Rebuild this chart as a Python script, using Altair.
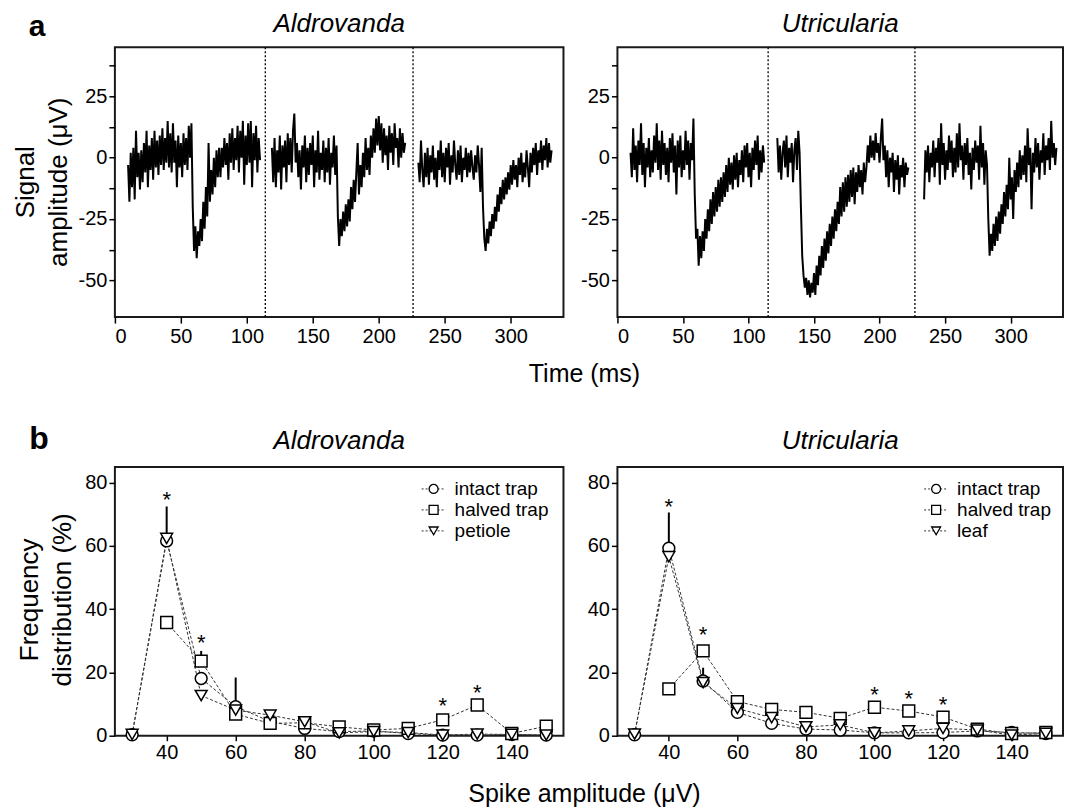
import altair as alt
import pandas as pd

FONT = "Liberation Sans"

# ---------------- panel a : signal traces (ms, µV) ----------------
ALD_STARTS = [10, 119, 230]
ALD_SEG1 = [-3, -18, 2, -12, 4, -17, 11, -8, 2, -13,
            3, -10, 6, -6, 11, -12, 5, -5, 8, -9,
            11, -4, 7, -7, 9, -3, 12, -5, 8, -2,
            15, -4, 10, -6, 14, -2, 7, -12, 9, -4,
            6, -8, 10, -3, 8, -5, 13, 0, 14, -20,
            -38, -28, -41, -30, -36, -25, -34, -18, -29, -12,
            -24, 6, -18, -5, -15, 0, -12, 3, -8, 4,
            -8, 4, -4, 8, -3, 6, -9, 10, -2, 12,
            -5, 8, -1, 13, -6, 11, 0, 15, -11, 9,
            -3, 14, -2, 15, -12, 10, -1, 13, -6, 8, -1]
ALD_SEG2 = [4, -10, 8, -12, 3, -6, 9, -13, 5, -4,
            7, -10, 10, -3, 8, -6, 11, 18, -2, 6,
            -8, 3, -13, 5, -4, 9, -10, 4, -7, 6,
            -3, 9, -12, 3, -6, 11, -9, 2, -5, 7,
            -10, 4, -6, 8, -11, 2, -4, 9, -7, 5,
            -24, -36, -25, -32, -22, -30, -19, -28, -17, -26,
            -12, -21, -9, -18, -6, 6, -15, -3, -12, 2,
            -8, 8, -5, 4, -7, 9, 0, 12, 2, 16,
            5, 17, 3, 14, -2, 12, 1, 9, -5, 13,
            2, 10, -3, 14, 4, 8, -4, 12, 0, 10, 2, 6]
ALD_SEG3 = [-2, -10, 7, -5, -12, 2, -8, 4, -11, 1,
            -6, 5, -9, 0, -12, 3, -5, 7, -8, 2,
            -10, 4, -4, 6, -11, 1, -6, 7, -3, -9,
            3, -7, 5, -10, 0, -5, 4, -8, 2, -6,
            3, -4, -9, 1, -6, 5, -3, -14, 4, -20,
            -33, -38, -29, -35, -26, -32, -23, -29, -20, -26,
            -15, -22, -12, -19, -9, -17, -8, -15, -6, -13,
            -3, -11, -1, -9, -3, -12, 0, -7, 2, -10,
            -2, -8, 3, -4, -12, 2, -6, 4, -3, 6,
            -7, 3, -2, 7, -5, 5, -1, 8, -4, 6, -2, 3]
ALD_DIVIDERS = [114, 226]

UTR_STARTS = [10, 122, 234]
UTR_SEG1 = [2, -8, 12, -5, 5, -10, 7, -3, 14, -7,
            6, -12, 4, -4, 8, -8, 3, -6, 9, -2,
            14, -5, 7, -9, 11, -3, 6, -7, 4, -10,
            8, -2, 10, -6, 5, -15, 7, -4, 9, -8,
            3, -5, 11, -3, 7, -9, 6, -1, 16, -15,
            -33, -29, -44, -32, -41, -30, -38, -25, -33, -21,
            -30, -17, -27, -14, -24, -12, -22, -9, -20, -8,
            -18, -6, -16, -3, -14, 0, -11, -2, -13, 1,
            -9, 2, -12, -1, -7, 3, -10, 5, -4, 6,
            -8, 2, -12, 4, -5, 7, -3, 9, -9, 3, -6, 5, -2]
UTR_SEG2 = [8, -6, 5, -9, 2, 7, -4, 9, -8,
            4, -2, 6, -10, 3, 8, -5, 11, 2, -20,
            -40, -48, -53, -49, -56, -50, -57, -51, -55,
            -47, -56, -44, -52, -40, -48, -36, -45, -33, -42,
            -30, -39, -27, -36, -24, -33, -21, -30, -18, -27,
            -12, -24, -10, -22, -8, -20, -7, -18, -5, -16,
            -4, -19, -6, -14, -3, -12, -5, -15, -2, -10,
            -4, 5, -2, 9, 0, 7, -1, 10, 2, 6,
            -2, 8, 16, -1, 5, -8, 3, -12, 0, -6,
            2, -14, -1, -9, 1, -15, -3, -8, 0, -12, -2, -7, -4]
UTR_SEG3 = [-17, 3, -6, 5, -10, 2, -4, 7, -8, 4,
            -2, 8, -11, 14, -3, 6, -9, 3, -5, 9,
            -2, 7, -8, 4, -6, 10, -4, 14, -1, 5,
            -9, 6, -3, 8, -7, 2, -13, 4, -5, 7,
            -2, 5, -9, 13, -4, 6, -11, 3, -3, -25,
            -40, -31, -38, -27, -36, -24, -34, -22, -31, -19,
            -27, -14, -24, -11, -21, 0, -17, -8, -25, -5,
            -14, -2, -12, 3, -9, 1, -7, 5, -10, 12,
            -3, 4, -21, 2, -6, 8, -4, 6, -9, 3,
            -2, 10, -7, 5, -1, 8, -5, 15, 0, 6, -3, 4]
UTR_DIVIDERS = [115, 227]

TRACE_X_TICKS = [0, 50, 100, 150, 200, 250, 300]
TRACE_Y_TICKS = [-50, -37.5, -25, -12.5, 0, 12.5, 25, 37.5]

# ---------------- panel b : frequency distributions ----------------
AMP = [30, 40, 50, 60, 70, 80, 90, 100, 110, 120, 130, 140, 150]
ALD_INTACT = [0.3, 61.6, 18.1, 9.2, 4.5, 2.3, 1.3, 1.5, 0.7, 0.2, 0.2, 0.4, 0.2]
ALD_HALVED = [None, 35.8, 23.6, 6.8, 3.9, 4.1, 2.8, 1.8, 2.3, 5.0, 9.7, 0.7, 3.0]
ALD_PETIOLE = [0.4, 62.4, 12.7, 8.1, 6.5, 4.4, 0.9, 1.3, 1.0, 0.2, 0.5, 0.4, 0.2]
ALD_ERR_X = [40, 50, 60]
ALD_ERR_LO = [61.6, 23.6, 9.2]
ALD_ERR_HI = [72.5, 26.8, 18.4]
ALD_STAR_X = [40, 50, 120, 130]
ALD_STAR_Y = [76, 31, 11, 15]

UTR_INTACT = [0.3, 59.3, 17.3, 7.4, 3.9, 2.1, 1.8, 0.9, 0.9, 1.0, 1.5, 1.0, 0.7]
UTR_HALVED = [None, 14.8, 26.8, 10.8, 8.3, 7.4, 5.5, 9.0, 7.8, 5.9, 2.1, 0.7, 1.0]
UTR_LEAF = [0.5, 56.6, 16.8, 8.6, 5.7, 2.8, 3.4, 0.9, 1.5, 2.3, 1.8, 0.2, 0.7]
UTR_ERR_X = [40, 50]
UTR_ERR_LO = [59.3, 17.3]
UTR_ERR_HI = [70.6, 21.5]
UTR_STAR_X = [40, 50, 100, 110, 120]
UTR_STAR_Y = [74, 33.4, 14.5, 13.2, 11.3]

FREQ_X_TICKS = [40, 60, 80, 100, 120, 140]
FREQ_Y_TICKS = [0, 20, 40, 60, 80]
SERIES = ["intact", "halved", "third"]
SHAPES = ["circle", "square", "triangle-down"]


def label(text, x, y, size, weight="normal", style="normal", angle=0,
          align="center", baseline="alphabetic"):
    return alt.Chart(pd.DataFrame({"s": [text]})).mark_text(
        font=FONT, fontSize=size, fontWeight=weight, fontStyle=style,
        angle=angle, align=align, baseline=baseline, color="black"
    ).encode(text="s:N", x=alt.value(x), y=alt.value(y))


def trace_panel(starts, segs, dividers, title, width, left=False):
    rows = []
    for k, (s, vals) in enumerate(zip(starts, segs)):
        for i, v in enumerate(vals):
            rows.append({"t": s + i, "v": v, "seg": k})
    df = pd.DataFrame(rows)
    xs = alt.Scale(domain=[0, 340], nice=False, zero=False)
    ys = alt.Scale(domain=[-65, 45], nice=False, zero=False)
    xax = alt.Axis(values=TRACE_X_TICKS, title=None, labelPadding=3)
    yax = alt.Axis(values=TRACE_Y_TICKS, title=None, labelPadding=2,
                   labelExpr="datum.value % 25 == 0 ? toString(datum.value) : ''")
    X = alt.X("t:Q", scale=xs, axis=xax)
    Y = alt.Y("v:Q", scale=ys, axis=yax)
    divs = alt.Chart(pd.DataFrame({"t": dividers})).mark_rule(
        color="black", strokeDash=[2, 2], strokeWidth=1.3).encode(x=X)
    line = alt.Chart(df).mark_line(color="black", strokeWidth=2.0).encode(
        x=X, y=Y, detail="seg:N")
    layers = [divs, line, label(title, width / 2, -15, 26, style="italic")]
    if left:
        layers += [
            label("a", -78, -11, 30, weight="bold"),
            label("Signal", -81, 135, 26, angle=270),
            label("amplitude (μV)", -48, 135, 26, angle=270),
            label("Time (ms)", 470, 335, 25),
        ]
    return alt.layer(*layers).properties(width=width, height=270)


def freq_panel(intact, halved, third, third_label, ex, elo, ehi, sx, sy,
               title, width, left=False):
    rows = []
    for name, vals in zip(SERIES, (intact, halved, third)):
        for a, v in zip(AMP, vals):
            if v is not None:
                rows.append({"amp": a, "val": v, "series": name})
    df = pd.DataFrame(rows)
    xs = alt.Scale(domain=[25, 155], nice=False, zero=False)
    ys = alt.Scale(domain=[0, 85], nice=False, zero=False)
    xax = alt.Axis(values=FREQ_X_TICKS, title=None, labelPadding=2, tickSize=5)
    yax = alt.Axis(values=FREQ_Y_TICKS, title=None, labelPadding=2)
    X = alt.X("amp:Q", scale=xs, axis=xax)
    Y = alt.Y("val:Q", scale=ys, axis=yax)
    lines = alt.Chart(df).mark_line(color="#333", strokeWidth=1,
                                    strokeDash=[3, 2]).encode(
        x=X, y=Y, detail="series:N")
    err = alt.Chart(pd.DataFrame({"amp": ex, "val": elo, "hi": ehi})).mark_rule(
        color="black", strokeWidth=2).encode(x=X, y=Y, y2="hi:Q")
    pts = alt.Chart(df).mark_point(filled=True, fill="white", stroke="black",
                                   strokeWidth=1.5, size=140, opacity=1).encode(
        x=X, y=Y,
        shape=alt.Shape("series:N", legend=None,
                        scale=alt.Scale(domain=SERIES, range=SHAPES)))
    stars = alt.Chart(pd.DataFrame({"amp": sx, "val": sy, "s": ["*"] * len(sx)})).mark_text(
        font=FONT, fontSize=22, baseline="alphabetic", dy=12, color="black").encode(
        x=X, y=Y, text="s:N")
    layers = [lines, err, pts, stars, label(title, width / 2, -18, 26, style="italic")]
    for i, (lab, shp) in enumerate(zip(["intact trap", "halved trap", third_label], SHAPES)):
        yy = 22 + 21 * i
        layers.append(alt.Chart(pd.DataFrame({"s": [lab]})).mark_rule(
            color="#333", strokeWidth=1, strokeDash=[2, 2]).encode(
            x=alt.value(307), x2=alt.value(331), y=alt.value(yy)))
        layers.append(alt.Chart(pd.DataFrame({"s": [lab]})).mark_point(
            shape=shp, filled=True, fill="white", stroke="black", strokeWidth=1.3,
            size=80, opacity=1).encode(x=alt.value(319), y=alt.value(yy)))
        layers.append(label(lab, 340, yy, 19, align="left", baseline="middle"))
    if left:
        layers += [
            label("b", -76, -18, 32, weight="bold"),
            label("Frequency", -77, 133, 26, angle=270),
            label("distribution (%)", -44, 133, 26, angle=270),
            label("Spike amplitude (μV)", 470, 335, 25),
        ]
    return alt.layer(*layers).properties(width=width, height=269)


chart = alt.concat(
    trace_panel(ALD_STARTS, [ALD_SEG1, ALD_SEG2, ALD_SEG3], ALD_DIVIDERS,
                "Aldrovanda", 449, left=True),
    trace_panel(UTR_STARTS, [UTR_SEG1, UTR_SEG2, UTR_SEG3], UTR_DIVIDERS,
                "Utricularia", 446),
    freq_panel(ALD_INTACT, ALD_HALVED, ALD_PETIOLE, "petiole", ALD_ERR_X, ALD_ERR_LO,
               ALD_ERR_HI, ALD_STAR_X, ALD_STAR_Y, "Aldrovanda", 449, left=True),
    freq_panel(UTR_INTACT, UTR_HALVED, UTR_LEAF, "leaf", UTR_ERR_X, UTR_ERR_LO,
               UTR_ERR_HI, UTR_STAR_X, UTR_STAR_Y, "Utricularia", 446),
    columns=2, spacing={"row": 150, "column": 54}, bounds="flush"
).properties(
    padding={"left": 4, "top": 2, "right": 5, "bottom": 5}
).configure(
    font=FONT, background="white"
).configure_axis(
    labelFont=FONT, labelFontSize=20, labelColor="black",
    tickColor="black", tickSize=6, tickWidth=1.5,
    domain=False, grid=False
).configure_view(stroke="#1a1a1a", strokeWidth=2)

chart.save("out.html", embed_options={"renderer": "svg", "actions": False})
